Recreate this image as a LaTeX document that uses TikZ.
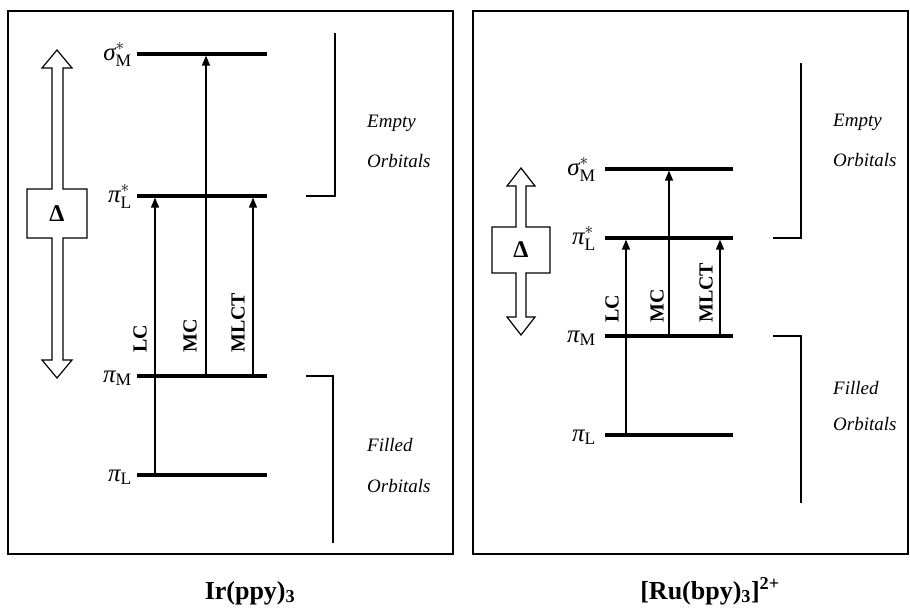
\documentclass[tikz,border=0pt]{standalone}
\usepackage{fontspec}
\setmainfont{Liberation Serif}
\usetikzlibrary{arrows.meta}
\begin{document}
\begin{tikzpicture}[x=1pt,y=-1pt,
  panel/.style={draw,line width=1.6pt},
  level/.style={line width=3.2pt},
  trans/.style={line width=1.4pt,-{Triangle[width=8pt,length=10pt]}},
  bracket/.style={line width=1.8pt},
  lvl/.style={anchor=base east,inner sep=0pt,font=\fontsize{25}{27}\selectfont},
  tlab/.style={rotate=90,anchor=west,inner sep=0pt,font=\bfseries\fontsize{20}{22}\selectfont},
  orb/.style={anchor=west,inner sep=0pt,font=\itshape\fontsize{19}{21}\selectfont},
  dbox/.style={draw,line width=1.2pt},
  dlab/.style={inner sep=0pt,font=\bfseries\fontsize{24}{26}\selectfont},
  title/.style={anchor=base,inner sep=0pt,font=\bfseries\fontsize{26}{28}\selectfont}
]
\useasboundingbox (0,0) rectangle (910,614);

% panels
\draw[panel] (8,11) rectangle (453,554);
\draw[panel] (473,11) rectangle (908,554);

% ---------------- left panel: Ir(ppy)3 ----------------
\coordinate (LsA) at (137,54);  \coordinate (LsB) at (267,54);
\coordinate (LpsA) at (137,196); \coordinate (LpsB) at (267,196);
\coordinate (LpmA) at (137,376); \coordinate (LpmB) at (267,376);
\coordinate (LplA) at (137,475); \coordinate (LplB) at (267,475);
\draw[level] (LsA) -- (LsB);
\draw[level] (LpsA) -- (LpsB);
\draw[level] (LpmA) -- (LpmB);
\draw[level] (LplA) -- (LplB);

\node[lvl] (Llab1) at (132,60) {$\textit{σ}^{*}_{\mathrm{M}}$};
\node[lvl] (Llab2) at (132,202) {$\textit{π}^{*}_{\mathrm{L}}$};
\node[lvl] (Llab3) at (132,382) {$\textit{π}_{\mathrm{M}}$};
\node[lvl] (Llab4) at (132,481) {$\textit{π}_{\mathrm{L}}$};

\coordinate (LlcS) at (155,475); \coordinate (LlcE) at (155,197.6);
\coordinate (LmcS) at (206,376); \coordinate (LmcE) at (206,55.6);
\coordinate (LmlS) at (253,376); \coordinate (LmlE) at (253,197.6);
\draw[trans] (LlcS) -- (LlcE);
\draw[trans] (LmcS) -- (LmcE);
\draw[trans] (LmlS) -- (LmlE);

\node[tlab] (Llc) at (140,353) {LC};
\node[tlab] (Lmc) at (190,353) {MC};
\node[tlab] (Lml) at (238,353) {MLCT};

\draw[dbox] (57,50) -- (72,68) -- (63,68) -- (63,189) -- (87,189) -- (87,238)
  -- (63,238) -- (63,360) -- (72,360) -- (57,378) -- (42,360) -- (52,360)
  -- (52,238) -- (27,238) -- (27,189) -- (52,189) -- (52,68) -- (42,68) -- cycle;
\node[dlab] (Ldelta) at (57,214) {Δ};

\draw[bracket] (335,33) -- (335,196) -- (306,196);
\draw[bracket] (306,376) -- (333,376) -- (333,543);

\node[orb] (Lempty) at (367,123) {Empty};
\node[orb] (Lorb1) at (367,161) {Orbitals};
\node[orb] (Lfilled) at (367,445) {Filled};
\node[orb] (Lorb2) at (367,486) {Orbitals};

% ---------------- right panel: [Ru(bpy)3]2+ ----------------
\coordinate (RsA) at (605,169);  \coordinate (RsB) at (733,169);
\coordinate (RpsA) at (605,238); \coordinate (RpsB) at (733,238);
\coordinate (RpmA) at (605,336); \coordinate (RpmB) at (733,336);
\coordinate (RplA) at (605,435); \coordinate (RplB) at (733,435);
\draw[level] (RsA) -- (RsB);
\draw[level] (RpsA) -- (RpsB);
\draw[level] (RpmA) -- (RpmB);
\draw[level] (RplA) -- (RplB);

\node[lvl] (Rlab1) at (596,175) {$\textit{σ}^{*}_{\mathrm{M}}$};
\node[lvl] (Rlab2) at (596,244) {$\textit{π}^{*}_{\mathrm{L}}$};
\node[lvl] (Rlab3) at (596,342) {$\textit{π}_{\mathrm{M}}$};
\node[lvl] (Rlab4) at (596,441) {$\textit{π}_{\mathrm{L}}$};

\coordinate (RlcS) at (626,435); \coordinate (RlcE) at (626,239.6);
\coordinate (RmcS) at (669,336); \coordinate (RmcE) at (669,170.6);
\coordinate (RmlS) at (720,336); \coordinate (RmlE) at (720,239.6);
\draw[trans] (RlcS) -- (RlcE);
\draw[trans] (RmcS) -- (RmcE);
\draw[trans] (RmlS) -- (RmlE);

\node[tlab] (Rlc) at (612,323) {LC};
\node[tlab] (Rmc) at (657,323) {MC};
\node[tlab] (Rml) at (706,323) {MLCT};

\draw[dbox] (521,168) -- (535,186) -- (526,186) -- (526,227) -- (550,227) -- (550,273)
  -- (526,273) -- (526,317) -- (535,317) -- (521,335) -- (507,317) -- (516,317)
  -- (516,273) -- (492,273) -- (492,227) -- (516,227) -- (516,186) -- (507,186) -- cycle;
\node[dlab] (Rdelta) at (521,250) {Δ};

\draw[bracket] (801,63) -- (801,238) -- (773,238);
\draw[bracket] (773,336) -- (801,336) -- (801,503);

\node[orb] (Rempty) at (833,122) {Empty};
\node[orb] (Rorb1) at (833,160) {Orbitals};
\node[orb] (Rfilled) at (833,388) {Filled};
\node[orb] (Rorb2) at (833,424) {Orbitals};

% titles
\node[title] (tL) at (250,599) {Ir(ppy)\textsubscript{3}};
\node[title] (tR) at (710,599) {[Ru(bpy)\textsubscript{3}]\textsuperscript{2+}};
\end{tikzpicture}
\end{document}
